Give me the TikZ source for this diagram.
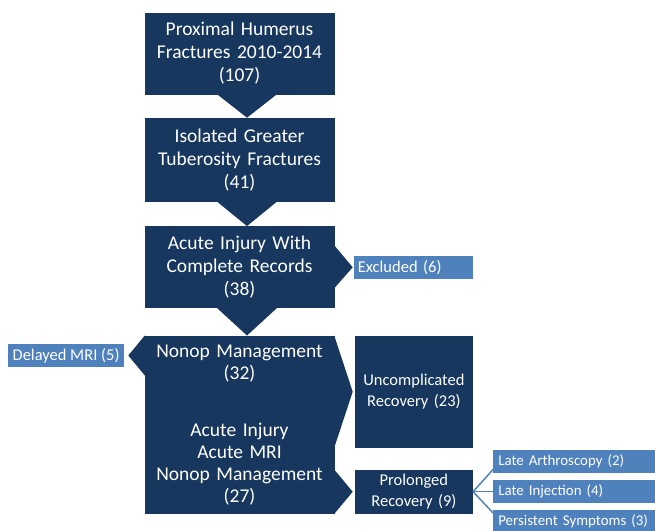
\documentclass[tikz,border=0pt]{standalone}
\usepackage{fontspec}
\setmainfont{Carlito}
\usetikzlibrary{positioning}
\definecolor{navyblue}{RGB}{23,55,94}
\definecolor{lightblue}{RGB}{79,129,189}
\tikzset{
	level0/.style = {rectangle, fill=navyblue, text=white, minimum width=190pt, text width=190pt, minimum height=82pt, inner sep=0pt, align=center, font=\fontsize{19.5}{23}\selectfont},
	level1/.style = {rectangle, fill=navyblue, text=white, minimum width=190pt, text width=190pt, minimum height=178pt, inner sep=0pt, align=center, font=\fontsize{19.5}{22}\selectfont},
	level2/.style = {rectangle, fill=navyblue, text=white, minimum width=118pt, text width=118pt, inner sep=0pt, align=center, font=\fontsize{16.5}{21.5}\selectfont},
	side/.style = {rectangle, fill=lightblue, text=white, align=left, inner xsep=4pt, inner ysep=0pt, minimum height=23pt, font=\fontsize{16.5}{20}\selectfont},
	outcome/.style = {rectangle, fill=lightblue, text=white, align=left, inner xsep=5pt, inner ysep=0pt, minimum height=23pt, text width=165pt, font=\fontsize{14.9}{18}\selectfont},
	pointer/.style = {fill=navyblue},
	conn/.style = {draw=lightblue, line width=1.5pt}
}

\begin{document}
\begin{tikzpicture}[x=1pt, y=1pt]
	\useasboundingbox (0,0) rectangle (655,-530);
	\clip (0,0) rectangle (655,-530);

	% Level 0: Screening
	\node (prox_hum) [level0] at (239.5,-53.5) {Proximal Humerus\\Fractures 2010-2014\\(107)};
	\node (iso_gt) [level0, minimum height=84pt, below=23pt of prox_hum] {Isolated Greater\\Tuberosity Fractures\\(41)};
	\node (acute_rec) [level0, below=24pt of iso_gt] {Acute Injury With\\Complete Records\\(38)};
	\node (excluded) [side, text width=111pt, right=19pt of acute_rec] {Excluded (6)};

	% Level 1: Management
	\node (nonop) [level1, below=27pt of acute_rec] {Nonop Management\\(32)\\[35pt]Acute Injury\\Acute MRI\\Nonop Management\\(27)};
	\node (delayed_mri) [side, minimum width=116pt, anchor=east] at ([xshift=-20pt, yshift=-20pt]nonop.north west) {Delayed MRI (5)};
	\node (uncomp) [level2, minimum height=112pt, anchor=north west] at ([xshift=20pt]nonop.north east) {Uncomplicated\\Recovery (23)};
	\node (prolonged) [level2, minimum height=44pt, anchor=south west] at ([xshift=20pt]nonop.south east) {Prolonged\\Recovery (9)};

	% Level 2: Outcomes
	\node (late_arth) [outcome, anchor=west] at ([xshift=20pt, yshift=30pt]prolonged.east) {Late Arthroscopy (2)};
	\node (late_inj) [outcome, anchor=west] at ([xshift=20pt]prolonged.east) {Late Injection (4)};
	\node (persist) [outcome, anchor=west] at ([xshift=20pt, yshift=-30pt]prolonged.east) {Persistent Symptoms (3)};

	% Pointers
	\fill [pointer] ([xshift=-22.5pt, yshift=0.5pt]prox_hum.south) -- ([xshift=37.5pt, yshift=0.5pt]prox_hum.south) -- ([xshift=7.5pt]iso_gt.north) -- cycle;
	\fill [pointer] ([xshift=-22.5pt, yshift=0.5pt]iso_gt.south) -- ([xshift=37.5pt, yshift=0.5pt]iso_gt.south) -- ([xshift=7.5pt]acute_rec.north) -- cycle;
	\fill [pointer] ([xshift=-22.5pt, yshift=0.5pt]acute_rec.south) -- ([xshift=37.5pt, yshift=0.5pt]acute_rec.south) -- ([xshift=7.5pt]nonop.north) -- cycle;
	\fill [pointer] ([xshift=-0.5pt, yshift=22pt]acute_rec.east) -- ([xshift=-1pt]excluded.west) -- ([xshift=-0.5pt, yshift=-21pt]acute_rec.east) -- cycle;
	\fill [pointer] ([xshift=0.5pt]nonop.north west) -- ([xshift=4pt]delayed_mri.east) -- ([xshift=0.5pt, yshift=-40pt]nonop.north west) -- cycle;
	\fill [pointer] ([xshift=-0.5pt]nonop.north east) -- ([xshift=-2pt]uncomp.west) -- ([xshift=-0.5pt]nonop.east |- uncomp.south) -- cycle;
	\fill [pointer] ([xshift=-0.5pt]nonop.east |- prolonged.north) -- ([xshift=-2pt]prolonged.west) -- ([xshift=-0.5pt]nonop.south east) -- cycle;

	% Connectors
	\draw [conn] (prolonged.east) -- ([yshift=4pt]late_arth.south west);
	\draw [conn] (prolonged.east) -- (late_inj.west);
	\draw [conn] (prolonged.east) -- ([yshift=-3pt]persist.north west);

\end{tikzpicture}
\end{document}
